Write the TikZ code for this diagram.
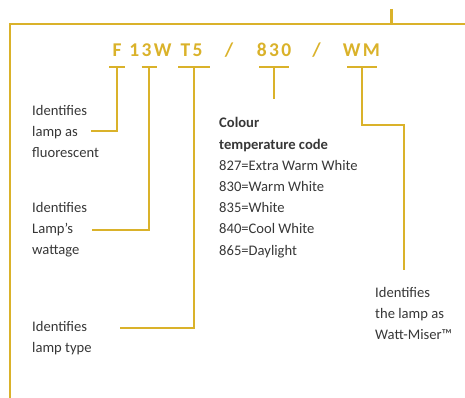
\documentclass[tikz,border=0pt]{standalone}
\usepackage{fontspec}
\setmainfont{Carlito}
\usepackage{xcolor}
\usetikzlibrary{calc}
\definecolor{lampgold}{RGB}{218,178,42}
\definecolor{txtgrey}{RGB}{55,55,55}

\begin{document}
\begin{tikzpicture}[x=1pt,y=-1pt,
  rule/.style={draw=lampgold, line width=1.1pt},
  code/.style={text=lampgold, font=\fontsize{19.5}{19.5}\selectfont\bfseries\addfontfeature{LetterSpace=12}, inner sep=0pt, anchor=base},
  desc/.style={text=txtgrey, font=\fontsize{14.6}{21.2}\selectfont, align=left, inner sep=0pt, anchor=north west}]
\useasboundingbox (0,0) rectangle (465,398);

% frame
\draw[rule, line width=1.4pt] (10,398) -- (10,24) -- (465,24);
\draw[draw=lampgold, line width=3pt] (391,9) -- (391,24);

% the code
\node[code] (cF)   at (117,57)   {F};
\node[code] (cW)   at (150.5,57) {13W};
\node[code] (cT)   at (191.5,57) {T5};
\node[code] (cs1)  at (229,57)   {/};
\node[code] (cK)   at (274,57)   {830};
\node[code] (cs2)  at (316.5,57) {/};
\node[code] (cM)   at (361.5,57) {WM};

\coordinate (bF) at (117,67);
\coordinate (bW) at (149,67);
\coordinate (bT) at (194,67);
\coordinate (bK) at (274,67);
\coordinate (bM) at (362,67);

\draw[rule] ($(bF)+(-8,0)$) -- +(16,0);
\draw[rule] ($(bW)+(-7.5,0)$) -- +(15,0);
\draw[rule] ($(bT)+(-16,0)$) -- +(32,0);
\draw[rule] ($(bK)+(-15,0)$) -- +(30,0);
\draw[rule] ($(bM)+(-15,0)$) -- +(30,0);

% descriptions
\node[desc] (dF) at (32,105) {Identifies\\lamp as\\fluorescent};
\node[desc] (dW) at (32,202) {Identifies\\Lamp’s\\wattage};
\node[desc] (dT) at (32,321) {Identifies\\lamp type};
\node[desc] (dK) at (219,117.5) {\textbf{Colour}\\\textbf{temperature code}\\827=Extra Warm White\\830=Warm White\\835=White\\840=Cool White\\865=Daylight};
\node[desc] (dM) at (375,287) {Identifies\\the lamp as\\Watt-Miser™};

\coordinate (eF) at (91,131);
\coordinate (eW) at (92,230);
\coordinate (eT) at (120,328);
\coordinate (eK) at (274,99);
\coordinate (kM) at (404,125);
\coordinate (eM) at (404,270);

\draw[rule] (bF) |- (eF);
\draw[rule] (bW) |- (eW);
\draw[rule] (bT) |- (eT);
\draw[rule] (bK) -- (eK);
\draw[rule] (bM) |- (kM) -- (eM);
\end{tikzpicture}
\end{document}
